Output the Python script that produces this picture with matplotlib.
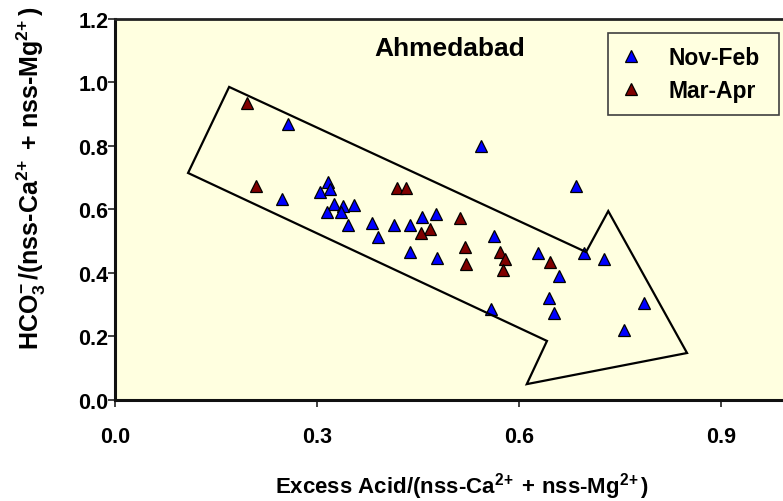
import matplotlib
matplotlib.use('Agg')
import matplotlib.pyplot as plt
from matplotlib.patches import Polygon
from matplotlib.ticker import FormatStrFormatter

plt.rcParams['font.family'] = ['Liberation Sans', 'DejaVu Sans']
plt.rcParams['font.weight'] = 'bold'
plt.rcParams['mathtext.fontset'] = 'custom'
plt.rcParams['mathtext.rm'] = 'Liberation Sans:bold'
plt.rcParams['mathtext.it'] = 'Liberation Sans:bold'
plt.rcParams['mathtext.bf'] = 'Liberation Sans:bold'
plt.rcParams['mathtext.default'] = 'rm'

# Nov-Feb samples
nov_feb_x = [0.256, 0.248, 0.316, 0.304, 0.319, 0.325, 0.338, 0.355, 0.315, 0.335,
             0.345, 0.381, 0.390, 0.414, 0.438, 0.455, 0.476, 0.437, 0.478, 0.562,
             0.627, 0.659, 0.543, 0.684, 0.696, 0.725, 0.644, 0.651, 0.558, 0.785,
             0.756]
nov_feb_y = [0.869, 0.633, 0.685, 0.654, 0.663, 0.616, 0.612, 0.614, 0.592, 0.592,
             0.551, 0.557, 0.512, 0.551, 0.551, 0.576, 0.587, 0.467, 0.448, 0.517,
             0.462, 0.389, 0.800, 0.674, 0.463, 0.443, 0.321, 0.274, 0.288, 0.305,
             0.221]

# Mar-Apr samples
mar_apr_x = [0.196, 0.209, 0.418, 0.431, 0.512, 0.467, 0.454, 0.520, 0.521, 0.571,
             0.579, 0.575, 0.646]
mar_apr_y = [0.935, 0.673, 0.668, 0.668, 0.573, 0.539, 0.527, 0.481, 0.428, 0.467,
             0.443, 0.410, 0.436]

# trend arrow outline (data units)
arrow_x = [0.169, 0.108, 0.641, 0.611, 0.849, 0.732, 0.699]
arrow_y = [0.986, 0.715, 0.186, 0.050, 0.148, 0.595, 0.466]

x_ticks = [0.0, 0.3, 0.6, 0.9]
y_ticks = [0.0, 0.2, 0.4, 0.6, 0.8, 1.0, 1.2]

bg = '#FFFFE0'

fig = plt.figure(figsize=(7.83, 5.02), dpi=100)
ax = fig.add_axes([0.1473, 0.2012, 0.86, 0.759])
ax.set_facecolor(bg)

ax.plot(nov_feb_x, nov_feb_y, linestyle='none', marker='^', markersize=9,
        markerfacecolor='#0000FF', markeredgecolor='black', markeredgewidth=0.9,
        label='Nov-Feb', zorder=3)
ax.plot(mar_apr_x, mar_apr_y, linestyle='none', marker='^', markersize=9,
        markerfacecolor='#800000', markeredgecolor='black', markeredgewidth=0.9,
        label='Mar-Apr', zorder=3)

ax.add_patch(Polygon(list(zip(arrow_x, arrow_y)), closed=True, fill=False,
                     edgecolor='black', linewidth=1.6, zorder=4))

ax.set_xlim(0, 1.0)
ax.set_ylim(0, 1.2)
ax.set_xticks(x_ticks)
ax.set_yticks(y_ticks)
ax.xaxis.set_major_formatter(FormatStrFormatter('%.1f'))
ax.yaxis.set_major_formatter(FormatStrFormatter('%.1f'))
ax.tick_params(direction='out', length=5, width=1.3, color='#333333',
               labelsize=15.5)
ax.tick_params(axis='x', pad=14)
ax.tick_params(axis='y', pad=0)

for side in ['left', 'bottom']:
    ax.spines[side].set_linewidth(2.2)
    ax.spines[side].set_color('#111111')
ax.spines['top'].set_linewidth(2)
ax.spines['top'].set_color('#222222')
ax.spines['right'].set_visible(False)

ax.text(0.497, 1.11, 'Ahmedabad', ha='center', va='center', fontsize=19)

leg = ax.legend(loc='upper left', bbox_to_anchor=(0.732, 0.746, 0.254, 0.217),
                mode='expand', borderaxespad=0, fontsize=16.5, numpoints=1,
                handlelength=0.9, handletextpad=1.2, borderpad=0.55,
                labelspacing=0.45, fancybox=False, framealpha=1,
                facecolor=bg, edgecolor='#404040')
leg.get_frame().set_linewidth(1.2)

fig.text(462 / 783, (502 - 494) / 502,
         r'Excess Acid/(nss-Ca$^{2\!+}$ + nss-Mg$^{2\!+}$)',
         ha='center', va='baseline', fontsize=16)
fig.text(39.5 / 783, 1 - 178 / 502,
         r'HCO$_3^{\!-}$/(nss-Ca$^{2\!+}$ + nss-Mg$^{2\!+}$)',
         ha='center', va='baseline', rotation=90, rotation_mode='anchor',
         fontsize=18)

fig.savefig('out.png', dpi=100, facecolor='white')
